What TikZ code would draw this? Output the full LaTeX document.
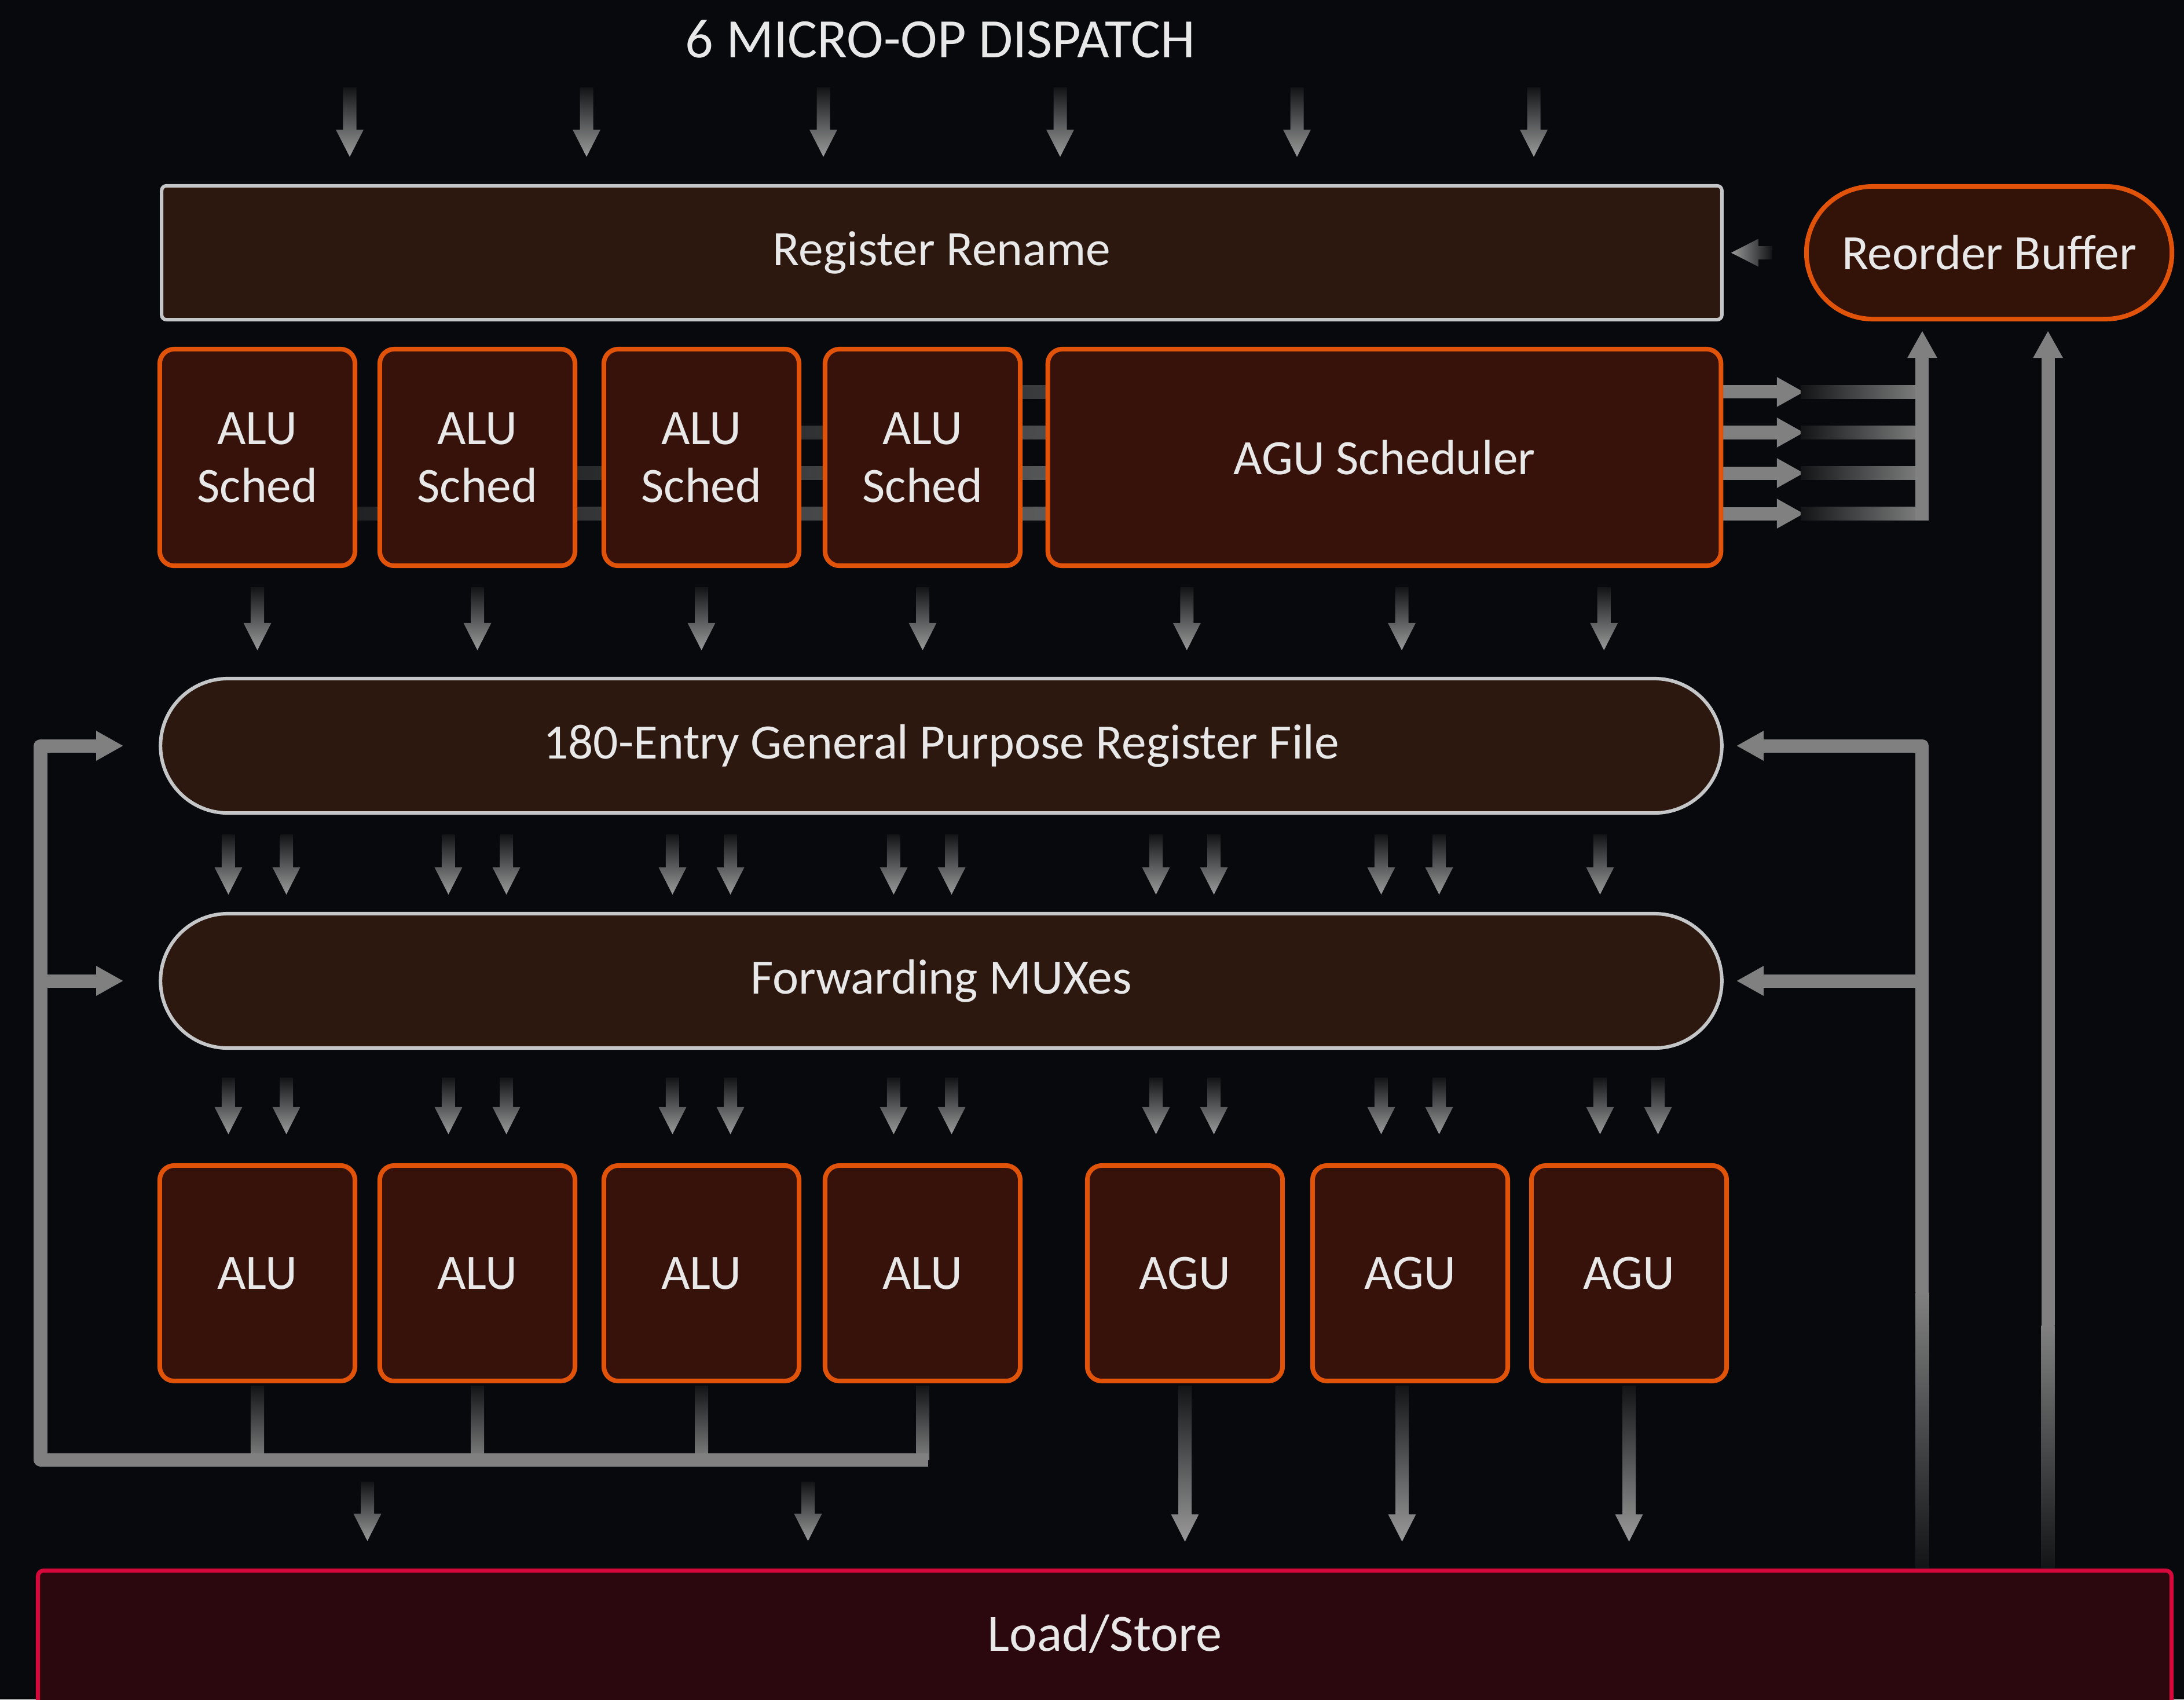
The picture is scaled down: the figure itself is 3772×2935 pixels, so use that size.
\documentclass[tikz,border=0pt]{standalone}
\usepackage{fontspec}
\setmainfont{Carlito}
\usetikzlibrary{arrows.meta,calc,shapes.misc}
\pgfdeclarelayer{bgl}
\pgfsetlayers{bgl,main}
\definecolor{bg}{HTML}{07090C}
\definecolor{orng}{HTML}{E2530A}
\definecolor{boxfill}{HTML}{36120A}
\definecolor{brn}{HTML}{2D1810}
\definecolor{robfill}{HTML}{331208}
\definecolor{lgray}{HTML}{C4C6C8}
\definecolor{gline}{HTML}{808080}
\definecolor{adark}{HTML}{121416}
\definecolor{alight}{HTML}{9A9A9A}
\definecolor{lsred}{HTML}{D6083B}
\definecolor{lsfill}{HTML}{2A080D}
\definecolor{txt}{HTML}{E8E8E8}
\definecolor{barA}{HTML}{38393B}
\definecolor{barB}{HTML}{303133}
\definecolor{barC}{HTML}{28292B}
\definecolor{barD}{HTML}{212224}
\newcommand\lblfont{\fontsize{24.3pt}{28.4pt}\selectfont}
\newcommand\lsfont{\fontsize{25.7pt}{30pt}\selectfont}
\newcommand\ttlfont{\fontsize{27.3pt}{31pt}\selectfont}
% gradient down arrow: #1 tail, #2 tip
\newcommand\dnarrow[2]{%
  \shade[top color=adark, bottom color=alight] let \p1=(#1), \p2=(#2) in
  (\x2-0.115cm,\y1) -- (\x2-0.115cm,\y2+0.47cm) -- (\x2-0.24cm,\y2+0.47cm) -- (\x2,\y2)
  -- (\x2+0.24cm,\y2+0.47cm) -- (\x2+0.115cm,\y2+0.47cm) -- (\x2+0.115cm,\y1) -- cycle;}
% gradient bar without head
\newcommand\dnline[2]{%
  \shade[top color=adark, bottom color=gline] let \p1=(#1), \p2=(#2) in
  (\x1-0.115cm,\y1) rectangle (\x1+0.115cm,\y2);}
% gradient left arrow: #1 tail (right), #2 tip (left)
\newcommand\lfarrow[2]{%
  \shade[left color=alight, right color=adark] let \p1=(#1), \p2=(#2) in
  (\x1,\y2-0.115cm) -- (\x2+0.47cm,\y2-0.115cm) -- (\x2+0.47cm,\y2-0.24cm) -- (\x2,\y2)
  -- (\x2+0.47cm,\y2+0.24cm) -- (\x2+0.47cm,\y2+0.115cm) -- (\x1,\y2+0.115cm) -- cycle;}
\begin{document}
\begin{tikzpicture}[x=0.01cm,y=-0.01cm,
  obox/.style={draw=orng, line width=0.08cm, fill=boxfill, rounded corners=0.25cm,
    inner sep=0pt, minimum width=3.37cm, minimum height=3.74cm, text=txt,
    font=\lblfont, align=center},
  gbox/.style={draw=lgray, line width=0.06cm, fill=brn, inner sep=0pt, text=txt, font=\lblfont},
  pill/.style={gbox, rounded rectangle, minimum width=26.95cm, minimum height=2.32cm},
  gl/.style={draw=gline, line width=0.23cm},
  gtip/.style={-{Triangle[width=0.48cm,length=0.47cm]}},
]
\useasboundingbox (0,0) rectangle (3772,2935);
\clip (0,0) rectangle (3772,2935);

% title
\node[text=txt, font=\ttlfont] (title) at (1624,67) {6 MICRO-OP DISPATCH};

% main blocks
\node[gbox, rounded corners=0.08cm, minimum width=26.93cm, minimum height=2.31cm] (rename) at (1626.5,436.5) {Register Rename};
\node[gbox, draw=orng, line width=0.08cm, fill=robfill, rounded rectangle, minimum width=6.31cm, minimum height=2.29cm] (rob) at (3435.5,436.5) {Reorder Buffer};

\node[obox] (s1) at (444.5,790) {ALU\\Sched};
\node[obox] (s2) at (824.5,790) {ALU\\Sched};
\node[obox] (s3) at (1211.5,790) {ALU\\Sched};
\node[obox] (s4) at (1593.5,790) {ALU\\Sched};
\node[obox, minimum width=11.62cm] (sag) at (2391,790) {AGU Scheduler};

\node[pill] (gpr) at (1625.5,1288) {180-Entry General Purpose Register File};
\node[pill] (mux) at (1625.5,1694) {Forwarding MUXes};

\node[obox, minimum height=3.72cm] (a1) at (444.5,2199) {ALU};
\node[obox, minimum height=3.72cm] (a2) at (824.5,2199) {ALU};
\node[obox, minimum height=3.72cm] (a3) at (1211.5,2199) {ALU};
\node[obox, minimum height=3.72cm] (a4) at (1593.5,2199) {ALU};
\node[obox, minimum height=3.72cm] (g1) at (2046.5,2199) {AGU};
\node[obox, minimum height=3.72cm] (g2) at (2435.5,2199) {AGU};
\node[obox, minimum height=3.72cm] (g3) at (2813.5,2199) {AGU};

\node[draw=lsred, line width=0.07cm, fill=lsfill, rounded corners=0.1cm, inner sep=0pt,
  minimum width=36.83cm, minimum height=2.98cm] (ls) at (1908,2861.5) {};
\node[text=txt, font=\lsfont] (lstxt) at ($(ls.north)+(0,-1.13cm)$) {Load/Store};

% helper coordinates
\coordinate (o1) at ($(sag.north east)+(0,-0.78cm)$);
\coordinate (o2) at ($(sag.north east)+(0,-1.48cm)$);
\coordinate (o3) at ($(sag.north east)+(0,-2.18cm)$);
\coordinate (o4) at ($(sag.north east)+(0,-2.88cm)$);
\coordinate (cx) at ($(rob.south)+(-1.155cm,0)$);
\coordinate (cx2) at ($(rob.south)+(1.015cm,0)$);
\coordinate (fadeA) at (0,2232);
\coordinate (fadeB) at (0,2289);
\coordinate (lx) at (70,0);
\coordinate (busy) at (0,2521);

\begin{pgfonlayer}{bgl}
  \fill[bg] (0,0) rectangle (3772,2935);
  % lines running behind the schedulers
  \shade[left color=barD, right color=gline] ($(s1.north east)+(0,-2.765cm)$) rectangle ($(sag.north west)+(7.9cm,-2.995cm)$);
  \shade[left color=barC, right color=gline] ($(s2.north east)+(0,-2.065cm)$) rectangle ($(sag.north west)+(7.9cm,-2.295cm)$);
  \shade[left color=barB, right color=gline] ($(s3.north east)+(0,-1.365cm)$) rectangle ($(sag.north west)+(7.9cm,-1.595cm)$);
  \shade[left color=barA, right color=gline] ($(s4.north east)+(0,-0.665cm)$) rectangle ($(sag.north west)+(7.9cm,-0.895cm)$);
  \fill[gline] ($(sag.north west)+(7.9cm,-0.665cm)$) rectangle ($(sag.north east)+(0,-0.895cm)$);
  \fill[gline] ($(sag.north west)+(7.9cm,-1.365cm)$) rectangle ($(sag.north east)+(0,-1.595cm)$);
  \fill[gline] ($(sag.north west)+(7.9cm,-2.065cm)$) rectangle ($(sag.north east)+(0,-2.295cm)$);
  \fill[gline] ($(sag.north west)+(7.9cm,-2.765cm)$) rectangle ($(sag.north east)+(0,-2.995cm)$);
  % AGU scheduler outputs
  \foreach \o in {o1,o2,o3,o4} {\draw[gl, gtip] (\o) -- (\o -| rob.west);}
\end{pgfonlayer}

% collectors to reorder buffer
\foreach \o in {o1,o2,o3,o4} {%
  \shade[left color=adark, right color=gline] ($(\o -| rob.west)+(-0.06cm,0.115cm)$) rectangle ($(\o -| cx)+(0,-0.115cm)$);}
\draw[gl, gtip] ($(cx |- o4)+(0,-0.115cm)$) -- ($(cx)+(0,-0.16cm)$);
\draw[gl, gtip] (cx2 |- fadeB) -- ($(cx2)+(0,-0.16cm)$);
\shade[top color=gline, bottom color=adark] ($(cx2 |- fadeB)+(-0.115cm,0)$) rectangle ($(cx2 |- ls.north)+(0.115cm,0)$);

% right feedback
\draw[gl, gtip, line join=round] (cx |- fadeA) -- (cx |- gpr.east) -- ($(gpr.east)+(0.22cm,0)$);
\draw[gl, gtip] (cx |- mux.east) -- ($(mux.east)+(0.22cm,0)$);
\shade[top color=gline, bottom color=adark] ($(cx |- fadeA)+(-0.115cm,0)$) rectangle ($(cx |- ls.north)+(0.115cm,0)$);

% left feedback from ALUs
\dnline{$(a1.south)+(0,-0.04cm)$}{a1.south |- busy}
\dnline{$(a2.south)+(0,-0.04cm)$}{a2.south |- busy}
\dnline{$(a3.south)+(0,-0.04cm)$}{a3.south |- busy}
\dnline{$(a4.south)+(0,-0.04cm)$}{a4.south |- busy}
\draw[gl, gtip, line join=round] ($(a4.south |- busy)+(0.095cm,0)$) -- (lx |- busy) -- (lx |- gpr.west) -- ($(gpr.west)+(-0.61cm,0)$);
\draw[gl, gtip] (lx |- mux.west) -- ($(mux.west)+(-0.61cm,0)$);

% reorder buffer -> rename
\lfarrow{$(rob.west)+(-0.55cm,0)$}{$(rename.east)+(0.13cm,0)$}

% dispatch arrows
\foreach \xx in {604,1013,1422,1831,2240,2649} {%
  \coordinate (tt) at (\xx,151);
  \dnarrow{tt}{$(tt |- rename.north)+(0,0.47cm)$}}

% schedulers -> register file
\foreach \s in {s1,s2,s3,s4} {%
  \dnarrow{$(\s.south)+(0,-0.33cm)$}{$(\s.south |- gpr.north)+(0,0.46cm)$}}
\coordinate (q1) at ($(sag.south west)+(2.44cm,-0.33cm)$);
\coordinate (q2) at ($(sag.south west)+(6.15cm,-0.33cm)$);
\coordinate (q3) at ($(sag.south west)+(9.64cm,-0.33cm)$);
\foreach \q in {q1,q2,q3} {\dnarrow{\q}{$(\q |- gpr.north)+(0,0.46cm)$}}

% register file -> forwarding muxes
\foreach \u in {a1,a2,a3,a4,g1,g2} {%
  \dnarrow{$(\u |- gpr.south)+(-0.5cm,-0.34cm)$}{$(\u |- mux.north)+(-0.5cm,0.30cm)$}
  \dnarrow{$(\u |- gpr.south)+(0.5cm,-0.34cm)$}{$(\u |- mux.north)+(0.5cm,0.30cm)$}}
\dnarrow{$(g3 |- gpr.south)+(-0.5cm,-0.34cm)$}{$(g3 |- mux.north)+(-0.5cm,0.30cm)$}

% forwarding muxes -> units
\foreach \u in {a1,a2,a3,a4,g1,g2,g3} {%
  \dnarrow{$(\u |- mux.south)+(-0.5cm,-0.48cm)$}{$(\u.north)+(-0.5cm,0.50cm)$}
  \dnarrow{$(\u |- mux.south)+(0.5cm,-0.48cm)$}{$(\u.north)+(0.5cm,0.50cm)$}}

% to load/store
\coordinate (m1) at ($(a1.south)!0.5!(a2.south)$);
\coordinate (m2) at ($(a3.south)!0.5!(a4.south)+(-0.07cm,0)$);
\foreach \m in {m1,m2} {\dnarrow{$(\m)+(0,-1.70cm)$}{$(\m |- ls.north)+(0,0.475cm)$}}
\dnarrow{$(g1.south)+(0,-0.04cm)$}{$(g1.south |- ls.north)+(0,0.465cm)$}
\dnarrow{$(g2.south)+(-0.14cm,-0.04cm)$}{$(g2.south |- ls.north)+(-0.14cm,0.465cm)$}
\dnarrow{$(g3.south)+(0,-0.04cm)$}{$(g3.south |- ls.north)+(0,0.465cm)$}
\end{tikzpicture}
\end{document}
